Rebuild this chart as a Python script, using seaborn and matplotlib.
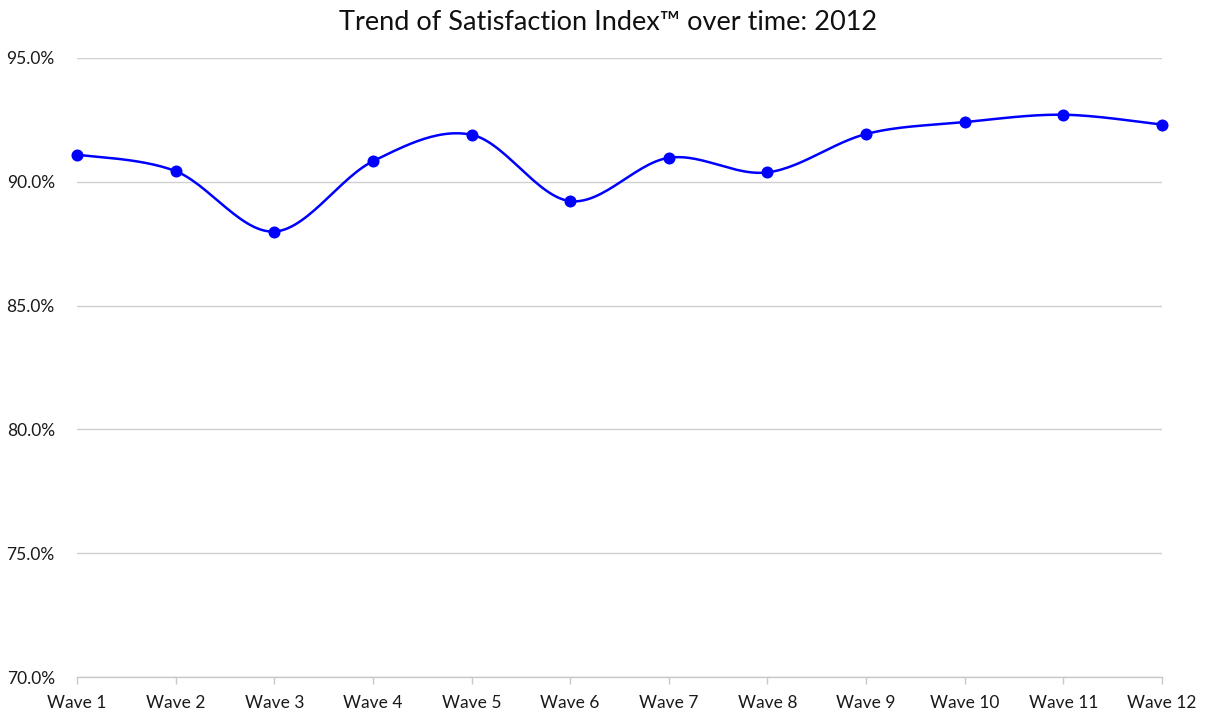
import numpy as np
import pandas as pd
import matplotlib
matplotlib.use("Agg")
import matplotlib.pyplot as plt
import seaborn as sns
from matplotlib.ticker import FuncFormatter

waves = ["Wave 1", "Wave 2", "Wave 3", "Wave 4", "Wave 5", "Wave 6",
         "Wave 7", "Wave 8", "Wave 9", "Wave 10", "Wave 11", "Wave 12"]
satisfaction = [91.10, 90.43, 87.99, 90.83, 91.90, 89.22,
                90.97, 90.38, 91.93, 92.41, 92.71, 92.31]
y_ticks = [70, 75, 80, 85, 90, 95]
title = "Trend of Satisfaction Index\u2122 over time: 2012"

sns.set_theme(style="white")
plt.rcParams['font.family'] = ['Lato', 'DejaVu Sans']

df = pd.DataFrame({"wave": waves, "value": satisfaction})
df["pos"] = np.arange(len(df))

# Catmull-Rom smoothing (like Excel's smoothed line) through the data points
def smooth(x, y, n=30):
    x = np.asarray(x, float); y = np.asarray(y, float)
    xp = np.concatenate([[x[0]], x, [x[-1]]])
    yp = np.concatenate([[y[0]], y, [y[-1]]])
    xs, ys = [], []
    t = np.linspace(0, 1, n)
    for i in range(1, len(xp) - 2):
        p0, p1, p2, p3 = (xp[i-1], yp[i-1]), (xp[i], yp[i]), (xp[i+1], yp[i+1]), (xp[i+2], yp[i+2])
        c1 = (p1[0] + (p2[0] - p0[0]) / 6, p1[1] + (p2[1] - p0[1]) / 6)
        c2 = (p2[0] - (p3[0] - p1[0]) / 6, p2[1] - (p3[1] - p1[1]) / 6)
        bx = (1-t)**3*p1[0] + 3*(1-t)**2*t*c1[0] + 3*(1-t)*t**2*c2[0] + t**3*p2[0]
        by = (1-t)**3*p1[1] + 3*(1-t)**2*t*c1[1] + 3*(1-t)*t**2*c2[1] + t**3*p2[1]
        xs.extend(bx); ys.extend(by)
    return np.array(xs), np.array(ys)

sx, sy = smooth(df["pos"], df["value"])
curve = pd.DataFrame({"x": sx, "y": sy})

fig = plt.figure(figsize=(12.1, 7.15), dpi=100)
ax = fig.add_axes([77/1210, 1 - 677/715, (1162 - 77)/1210, (677 - 58)/715])

sns.lineplot(data=curve, x="x", y="y", ax=ax, color="#0000FF", linewidth=1.8,
             sort=False, estimator=None, zorder=3)
sns.scatterplot(data=df, x="pos", y="value", ax=ax, color="#0000FF", s=75,
                edgecolor="#0000FF", linewidth=0, zorder=4)
for coll in ax.collections:
    coll.set_clip_on(False)
for ln in ax.lines:
    ln.set_clip_on(False)

ax.set_xlim(0, len(waves) - 1)
ax.set_ylim(70, 95)
ax.set_xticks(df["pos"])
ax.set_xticklabels(waves)
ax.set_yticks(y_ticks)
ax.yaxis.set_major_formatter(FuncFormatter(lambda v, p: f"{v:.1f}%"))
ax.grid(axis="y", color="#d0d0d0", linewidth=1.0)
ax.set_axisbelow(True)
ax.set_xlabel("")
ax.set_ylabel("")
for s in ["top", "right", "left"]:
    ax.spines[s].set_visible(False)
ax.spines["bottom"].set_color("#c8c8c8")
ax.spines["bottom"].set_linewidth(1.0)
ax.tick_params(axis="x", bottom=True, length=5, width=1, color="#c8c8c8",
               labelsize=12.5, labelcolor="#1a1a1a", pad=8)
ax.tick_params(axis="y", left=False, labelsize=12.5, labelcolor="#1a1a1a", pad=10)
fig.text(608/1210, 1 - 22/715, title, fontsize=19.5, color="#111111",
         ha="center", va="center")

fig.savefig("out.png", dpi=100)
